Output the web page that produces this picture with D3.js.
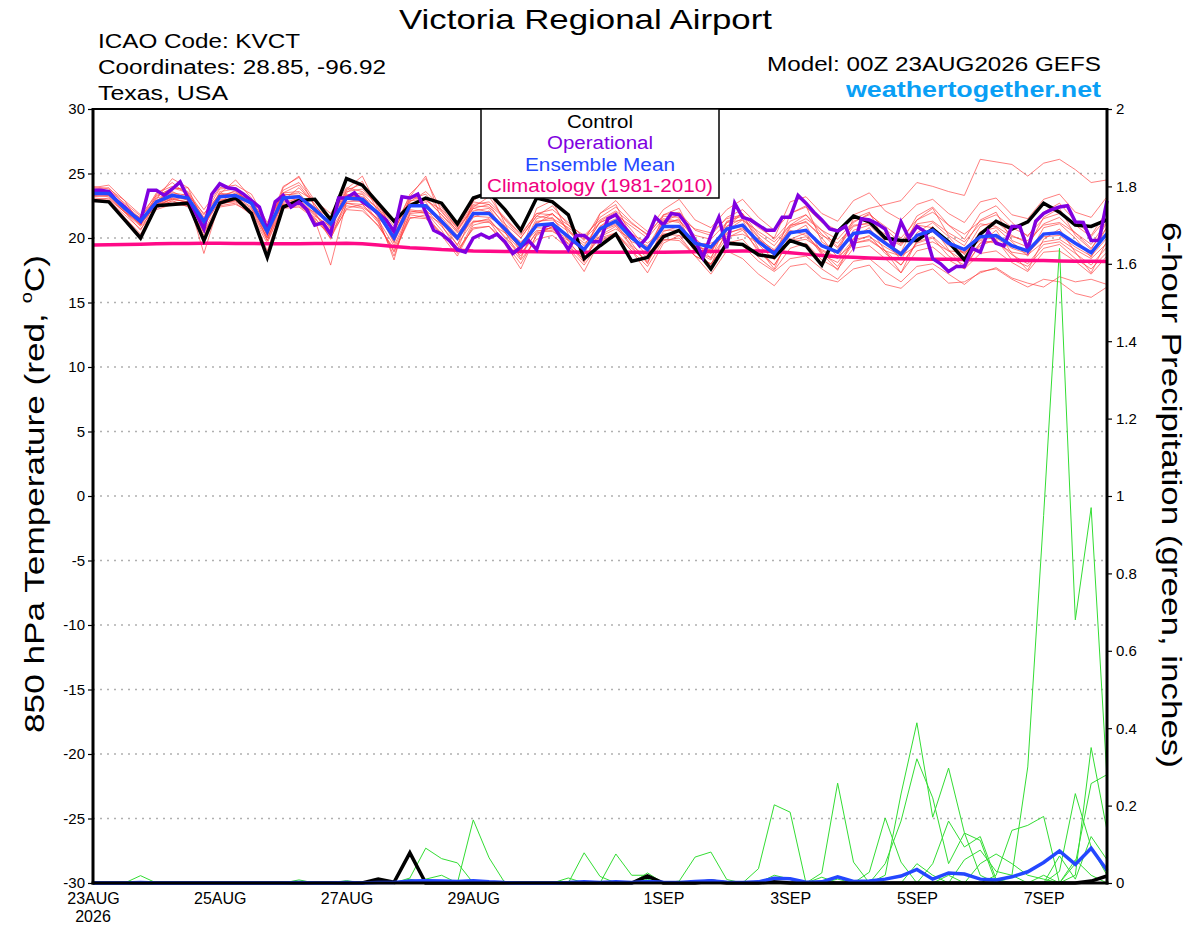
<!DOCTYPE html>
<html><head><meta charset="utf-8">
<script src="https://cdn.jsdelivr.net/npm/d3@7/dist/d3.min.js"></script>
<style>
body{margin:0;background:#fff}
svg{display:block}
text{font-family:"Liberation Sans",Arial,Helvetica,sans-serif}
</style>
</head><body>
<svg id="chart" width="1200" height="927"></svg>
<script>
// ---------------- DATA ----------------
const runStart = "2026-08-23T00:00:00Z";
const runEnd = "2026-09-08T00:00:00Z";

const tempTicks = [30,25,20,15,10,5,0,-5,-10,-15,-20,-25,-30];
const tempTickLabels = ["30","25","20","15","10","5","0","-5","-10","-15","-20","-25","-30"];
const precipTicks = [2,1.8,1.6,1.4,1.2,1,0.8,0.6,0.4,0.2,0];
const precipTickLabels = ["2","1.8","1.6","1.4","1.2","1","0.8","0.6","0.4","0.2","0"];
const dateTicks = ["2026-08-23","2026-08-25","2026-08-27","2026-08-29","2026-09-01","2026-09-03","2026-09-05","2026-09-07"];
const dateTickLabels = ["23AUG","25AUG","27AUG","29AUG","1SEP","3SEP","5SEP","7SEP"];

// 6-hourly control 850 hPa temperature
const controlTemp = [
22.9,22.8,21.4,20.0,22.5,22.6,22.7,19.8,22.7,23.1,
21.9,18.5,22.4,22.9,23.0,21.4,24.6,24.1,22.7,21.3,
22.5,23.1,22.7,21.1,23.1,23.5,22.2,20.6,23.1,22.8,
21.8,18.4,19.4,20.3,18.2,18.5,20.1,20.6,19.2,17.6,
19.6,19.5,18.7,18.5,19.8,19.4,17.9,20.5,21.7,21.25,
20.0,19.8,19.8,20.7,19.7,18.3,20.3,21.3,20.7,21.25,
22.7,22.0,21.0,20.9,21.4];

// 3-hourly operational temperature
const operationalTemp = [
23.7,23.7,23.6,22.9,22.4,21.8,21.3,23.7,23.7,23.3,
23.8,24.35,23.1,21.9,20.7,23.4,24.2,23.9,23.8,23.4,
22.9,22.4,20.6,22.8,23.3,22.4,22.8,22.2,21.0,21.2,
20.3,23.1,23.1,23.5,22.8,22.4,21.9,21.4,20.5,23.2,
23.1,23.4,22.0,20.6,20.3,19.8,19.1,18.9,20.0,20.3,
20.0,20.3,19.7,18.8,19.3,19.8,19.1,20.9,21.1,20.1,
19.1,20.2,20.2,19.7,19.7,21.5,21.8,20.9,20.2,19.4,
20.1,21.6,21.0,21.9,21.8,21.0,19.8,18.5,20.2,21.6,
19.2,22.7,21.6,21.4,21.0,20.6,20.6,21.6,21.6,23.3,
22.7,22.0,21.4,20.7,20.55,20.9,19.3,21.5,21.4,21.1,
20.7,19.3,21.25,20.0,20.9,20.5,18.4,18.0,17.4,17.8,
17.8,19.2,18.9,20.5,19.6,19.4,20.9,20.9,19.1,21.3,
21.9,22.2,22.4,22.5,21.25,21.2,19.8,19.8,22.9];

// 6-hourly ensemble mean temperature
const meanTemp = [
23.45,23.45,22.3,21.3,22.8,23.3,23.1,21.3,23.2,23.3,
22.7,20.5,23.1,23.2,22.2,21.1,23.1,23.0,21.9,20.0,
22.5,22.5,21.3,20.0,21.9,21.9,20.7,19.4,21.0,21.1,
20.1,19.1,20.7,21.3,20.0,19.1,20.9,20.9,19.6,19.3,
20.7,21.0,19.7,18.8,20.4,20.6,19.4,18.9,20.35,20.5,
19.6,18.75,20.2,20.6,19.6,19.1,20.1,20.2,19.4,19.0,
20.3,20.4,19.6,18.85,20.35];

// 6-hourly climatology (1981-2010)
const climTemp = [
19.45,19.47,19.5,19.52,19.55,19.57,19.58,19.6,19.6,19.58,
19.57,19.55,19.55,19.55,19.57,19.58,19.6,19.55,19.45,19.35,
19.25,19.18,19.1,19.05,19.0,18.98,18.95,18.95,18.93,18.92,
18.92,18.9,18.9,18.9,18.9,18.9,18.9,18.92,18.93,18.95,
18.97,19.0,19.0,18.95,18.85,18.75,18.65,18.55,18.5,18.45,
18.42,18.4,18.38,18.36,18.35,18.33,18.32,18.3,18.28,18.26,
18.25,18.22,18.2,18.2,18.18];

// 6-hourly ensemble member temperatures
const memberTemp1 = [
23.8,23.9,22.6,21.5,23.5,24.0,23.6,21.8,23.8,23.9,
23.0,20.9,23.7,24.3,22.8,21.6,23.6,23.8,22.5,20.6,
23.0,23.4,22.0,20.8,22.6,22.8,21.6,20.3,21.9,22.2,
21.2,20.0,21.6,22.4,21.2,20.2,21.8,22.0,20.6,20.2,
21.6,22.2,21.0,19.9,21.3,21.8,20.6,19.9,21.3,21.8,
20.9,20.0,21.4,22.0,21.0,20.3,21.3,21.8,20.8,20.2,
21.5,21.9,21.0,20.1,21.6];
const memberTemp2 = [
23.0,22.9,21.8,20.7,22.2,22.6,22.5,20.5,22.4,22.6,
22.0,19.8,22.3,22.4,21.5,20.2,22.2,22.1,21.0,19.0,
21.6,21.5,20.4,18.9,20.8,20.9,19.8,18.3,19.9,20.2,
19.2,17.9,19.7,20.3,19.0,17.8,19.8,20.0,18.6,18.0,
19.6,19.9,18.5,17.5,19.2,19.6,18.3,17.6,19.2,19.4,
18.4,17.3,19.0,19.3,18.3,17.6,18.8,19.0,18.1,17.4,
18.9,19.0,18.2,17.2,18.6];
const memberTemp3 = [
23.6,23.5,22.1,21.0,23.0,24.6,23.9,21.0,23.3,23.6,
22.6,20.8,24.0,24.7,22.9,21.4,23.8,24.8,22.3,20.4,
23.4,24.6,22.1,20.5,22.4,23.2,21.4,20.0,21.7,22.5,
21.0,19.8,21.9,22.9,21.5,20.5,22.2,23.0,21.4,20.8,
22.2,23.0,21.6,20.6,21.9,22.4,21.2,20.6,21.8,22.3,
22.6,22.9,24.3,24.0,23.6,23.3,26.1,25.9,25.7,24.8,
25.8,26.1,25.3,24.3,24.5];
const memberTemp4 = [
23.2,23.3,22.0,21.1,22.5,23.0,22.8,20.9,22.9,23.1,
22.3,20.0,22.7,22.9,21.8,20.5,22.7,22.6,21.4,19.4,
22.0,22.2,20.9,19.5,21.3,21.4,20.1,18.8,20.4,20.6,
19.6,18.5,20.0,20.4,19.2,18.2,19.9,19.8,18.6,18.0,
19.6,19.4,18.2,17.4,18.4,18.6,17.6,16.8,18.2,18.4,
17.4,16.6,17.8,18.0,17.2,16.4,17.4,17.6,16.8,16.2,
16.8,16.6,15.7,15.4,16.2];
const memberTemp5 = [
23.5,23.6,22.5,21.2,22.6,23.2,23.4,21.6,23.5,23.2,
22.4,20.2,22.8,23.0,21.9,20.6,23.3,23.5,22.2,19.7,
22.2,22.0,21.6,20.2,22.3,22.0,20.4,19.0,21.3,21.4,
20.5,19.4,21.2,21.7,20.3,18.9,21.2,21.4,19.9,19.0,
20.9,21.5,20.0,18.6,20.8,21.3,20.0,18.5,20.6,21.0,
19.8,18.3,20.4,21.2,20.1,18.7,20.5,20.8,19.7,18.6,
20.8,21.1,20.0,18.5,20.9];
const memberTemp6 = [
23.3,23.2,22.0,20.6,22.9,23.6,23.0,18.8,22.8,23.5,
22.9,19.8,23.3,23.5,22.0,19.9,23.0,23.4,21.6,18.3,
22.7,22.8,21.0,19.1,22.1,22.3,20.5,18.4,21.2,21.6,
19.8,18.2,20.9,21.8,19.6,18.0,21.0,21.5,19.0,17.9,
20.6,21.4,19.2,17.6,20.3,21.0,18.8,17.5,20.0,20.8,
19.0,17.3,19.8,20.9,19.1,17.6,19.6,20.6,18.8,17.5,
19.9,20.7,18.9,17.3,19.8];
const memberTemp7 = [
24.0,23.8,22.9,21.8,23.3,23.8,23.9,22.2,23.9,24.1,
23.4,21.2,23.5,23.6,22.9,21.9,23.9,23.6,22.6,20.9,
23.2,22.9,22.2,20.9,22.8,22.6,21.5,20.2,21.9,21.8,
21.0,20.2,21.4,22.1,21.1,20.3,21.7,21.6,20.7,20.4,
21.5,21.8,20.8,20.0,22.8,23.2,21.9,21.3,22.9,23.5,
22.1,21.4,22.6,23.0,21.9,21.2,22.8,23.1,21.8,21.5,
23.0,23.4,22.0,21.6,23.2];
const memberTemp8 = [
22.8,22.9,21.6,20.3,22.4,23.1,22.7,20.2,22.6,22.9,
21.9,19.0,22.6,22.8,21.4,17.9,22.8,22.9,21.3,18.6,
21.9,22.0,20.6,18.8,21.2,21.5,20.0,18.6,20.5,20.8,
19.3,18.4,20.2,20.9,19.3,18.1,20.3,20.5,19.0,18.3,
20.0,20.6,19.1,17.9,19.8,20.1,18.9,17.8,19.6,19.9,
19.0,17.9,19.7,20.1,19.0,18.2,19.6,19.8,18.7,18.0,
19.5,19.7,18.8,17.9,19.3];
const memberTemp9 = [
23.7,23.6,22.2,21.6,23.1,23.4,22.9,21.1,23.6,23.8,
22.5,20.4,22.9,23.9,22.6,21.0,23.3,23.1,21.7,19.9,
22.4,23.1,21.8,20.4,21.7,21.6,20.9,19.6,21.1,21.9,
20.6,19.6,20.5,21.0,19.7,19.3,21.4,21.2,19.4,18.9,
20.9,21.9,20.3,19.4,21.0,21.8,20.3,19.2,20.9,21.2,
20.1,19.4,21.0,20.8,19.5,18.9,20.9,21.3,20.2,19.6,
21.1,21.6,20.4,19.2,20.8];
const memberTemp10 = [
23.4,23.3,22.4,21.4,22.7,23.1,23.0,21.4,23.0,23.0,
22.8,20.7,23.2,22.9,21.7,20.9,23.0,22.8,21.9,20.2,
22.6,22.4,21.1,19.8,21.6,22.1,20.7,19.7,20.8,20.7,
19.9,19.0,20.9,21.5,20.3,19.6,20.6,20.6,19.3,19.1,
20.4,20.7,19.9,19.1,20.6,20.2,19.0,18.4,19.9,20.1,
19.3,18.6,20.0,20.5,19.4,18.8,19.9,20.0,19.2,18.8,
20.1,20.2,19.3,18.6,20.0];
const memberTemp11 = [
23.9,24.1,22.9,21.0,23.4,24.3,23.3,20.8,23.4,24.5,
23.1,20.1,23.9,24.8,22.4,20.7,23.5,24.4,22.0,19.6,
23.2,24.8,21.4,19.4,22.9,23.7,21.1,18.9,22.3,22.9,
20.3,18.7,21.9,22.6,20.0,18.6,21.8,22.3,19.8,18.4,
21.2,21.9,19.5,18.3,21.9,22.5,19.7,18.9,21.5,22.0,
19.7,18.9,21.4,22.3,20.2,19.4,21.4,22.0,19.8,19.3,
21.6,22.3,20.2,19.1,21.2];
const memberTemp12 = [
23.1,23.0,22.0,21.3,22.6,22.8,22.6,21.1,22.8,22.9,
22.2,20.6,22.6,22.6,22.0,21.2,22.7,22.4,21.5,20.4,
22.1,21.9,21.1,20.1,21.3,21.2,20.4,19.3,20.6,20.5,
19.8,19.2,20.1,20.7,19.9,19.4,20.3,20.2,19.5,19.6,
20.1,20.3,19.6,19.0,19.7,19.9,19.1,18.5,19.6,19.8,
19.0,18.6,19.4,19.7,19.0,18.9,19.8,19.6,18.9,18.7,
19.7,19.9,19.1,18.4,19.6];
const memberTemp13 = [
23.3,23.4,22.3,21.0,22.6,23.0,22.8,20.6,22.7,22.8,
22.1,20.0,22.4,22.5,21.6,20.0,22.3,22.6,21.2,18.9,
21.5,21.8,20.3,19.1,20.7,20.9,19.5,17.6,20.3,20.9,
19.2,17.4,19.8,20.4,19.0,17.3,19.6,20.2,18.6,17.2,
19.0,18.4,17.2,16.3,17.8,18.0,16.9,16.6,17.6,17.9,
16.4,16.1,17.2,17.6,16.5,16.6,17.3,17.7,16.9,16.5,
16.2,17.0,16.6,16.8,16.4];
const memberTemp14 = [
23.6,23.7,22.7,21.7,22.9,23.5,23.3,21.9,23.4,23.4,
22.9,21.0,23.4,23.3,22.4,21.5,23.4,23.2,22.3,20.6,
22.9,23.0,21.8,20.6,22.5,22.4,21.1,20.0,21.7,21.5,
20.8,19.9,21.2,21.8,20.9,20.0,21.5,21.3,20.2,19.9,
21.2,21.4,20.5,19.7,21.0,21.2,20.2,19.6,21.0,21.1,
20.3,19.5,21.1,21.3,20.4,19.7,21.1,20.9,20.1,19.8,
21.0,21.2,20.4,19.5,21.3];
const memberTemp15 = [
23.5,23.4,22.3,21.1,23.2,23.9,23.5,21.5,23.1,23.7,
22.6,20.3,23.5,24.1,22.6,20.8,23.7,24.2,22.8,20.3,
22.8,23.6,22.4,20.7,22.3,22.6,20.9,19.1,21.5,21.9,
20.7,19.1,21.3,22.0,20.6,19.0,21.3,21.8,20.0,18.8,
21.3,21.7,20.1,18.9,20.9,21.5,20.6,19.3,21.2,21.9,
20.7,19.6,21.7,22.4,21.0,19.9,21.9,22.5,21.2,20.1,
22.0,22.7,21.3,20.2,22.1];
const memberTemp16 = [
22.9,23.1,22.0,20.9,22.3,22.9,22.4,20.4,22.5,22.7,
21.8,19.6,22.5,22.7,21.3,20.3,22.5,22.3,20.9,19.2,
21.8,21.6,20.2,18.6,21.0,21.3,19.6,18.0,20.2,20.9,
19.5,18.1,20.6,21.1,19.4,18.5,20.5,20.9,18.9,18.5,
20.3,20.8,18.9,17.9,19.9,20.4,18.7,18.1,19.7,20.2,
18.8,17.9,19.6,20.0,18.6,17.9,19.4,19.9,18.3,17.8,
19.2,19.5,18.4,17.6,18.9];
const memberTemps = [memberTemp1,memberTemp2,memberTemp3,memberTemp4,memberTemp5,memberTemp6,memberTemp7,
  memberTemp8,memberTemp9,memberTemp10,memberTemp11,memberTemp12,memberTemp13,memberTemp14,memberTemp15,memberTemp16];

// 6-hourly precipitation (inches)
const controlPrecip = [
0,0,0,0,0,0,0,0,0,0,
0,0,0,0,0,0,0,0,0.01,0.002,
0.078,0,0,0,0,0,0,0,0,0,
0,0,0,0,0,0.018,0,0,0,0.005,
0,0,0,0.003,0,0,0,0,0,0,
0,0,0,0,0,0,0,0,0,0,
0,0,0,0.005,0.018];
const meanPrecip = [
0,0,0,0.001,0,0,0,0,0,0,
0,0,0,0.001,0,0,0.001,0,0.001,0.001,
0.005,0.006,0.005,0.004,0.006,0.003,0.001,0,0,0,
0.001,0.003,0.001,0.003,0.001,0.004,0.002,0.001,0.004,0.006,
0.002,0.001,0.003,0.012,0.011,0.002,0.003,0.016,0.004,0.005,
0.01,0.018,0.035,0.01,0.026,0.023,0.01,0.008,0.016,0.029,
0.053,0.083,0.048,0.09,0.033];
const memberPrecip1 = [
0,0,0,0.019,0,0,0,0,0,0,
0,0,0,0,0,0,0,0,0,0,
0.013,0.09,0.063,0.052,0,0,0,0,0,0,
0,0,0,0,0,0,0,0,0,0,
0,0,0.037,0.202,0.183,0,0,0,0,0,
0.02,0.23,0.414,0.17,0.297,0.13,0.02,0,0,0,
0,0,0,0,0];
const memberPrecip2 = [
0,0,0,0,0,0,0,0,0,0,
0,0,0,0.008,0,0,0,0,0,0,
0,0,0,0,0.163,0.065,0,0,0,0,
0,0,0,0,0,0.026,0,0.005,0.067,0.08,
0.009,0,0,0,0,0,0,0,0,0,
0,0,0,0,0,0,0,0,0.02,0.30,
0.95,1.64,0.68,0.97,0.27];
const memberPrecip3 = [
0,0,0,0,0,0,0,0,0,0,
0,0,0,0,0,0,0.006,0,0,0,
0.01,0,0,0,0,0,0,0,0,0,
0,0.078,0.017,0,0,0,0,0,0,0,
0,0,0,0,0,0,0.026,0.258,0.054,0,
0,0,0,0,0,0,0,0.02,0.136,0.149,
0.172,0,0.02,0.35,0.136];
const memberPrecip4 = [
0,0,0,0,0,0,0,0,0,0,
0,0,0,0,0,0,0,0,0,0,
0,0,0,0,0,0,0,0,0,0,
0,0,0,0.075,0.02,0.02,0,0,0,0,
0,0,0,0,0,0,0,0,0,0.028,
0.168,0.054,0,0.05,0.16,0.093,0.12,0.01,0,0,
0,0.03,0.231,0.093,0.02];
const memberPrecip5 = [
0,0,0,0,0,0,0,0,0,0,
0,0,0,0,0,0,0,0,0,0,
0,0,0,0,0,0,0,0,0,0,
0.013,0,0,0,0,0.018,0,0,0,0,
0,0,0,0,0,0,0,0,0,0,
0.05,0.16,0.321,0.22,0.05,0.129,0.11,0,0,0,
0.02,0,0.05,0.257,0.28];
const memberPrecip6 = [
0,0,0,0,0,0,0,0,0,0,
0,0,0,0,0,0,0,0,0,0,
0,0.01,0.02,0,0,0,0,0,0,0,
0,0,0,0,0,0,0,0,0,0.006,
0,0,0,0.02,0.01,0,0,0.01,0,0,
0,0,0,0,0.02,0,0.05,0.075,0.05,0.02,
0.01,0,0.06,0.02,0];
const memberPrecip7 = [
0,0,0,0,0,0,0,0,0,0,
0,0,0,0,0,0,0,0,0,0,
0,0,0,0,0,0,0,0,0,0,
0,0,0,0,0,0.01,0,0,0,0,
0,0,0,0,0,0,0.015,0,0,0,
0,0,0.05,0.02,0,0.06,0.085,0.03,0.02,0,
0,0.07,0.01,0.12,0.06];
const memberPrecips = [memberPrecip1,memberPrecip2,memberPrecip3,memberPrecip4,memberPrecip5,memberPrecip6,memberPrecip7];

const legendItems = ["Control","Operational","Ensemble Mean","Climatology (1981-2010)"];

// ---------------- DRAWING ----------------
const svg = d3.select("#chart");
const L = 93, R = 1107, T = 109, B = 883;
const t0 = new Date(runStart), t1 = new Date(runEnd);
const x = d3.scaleUtc().domain([t0, t1]).range([L, R]);
const yT = d3.scaleLinear().domain([-30, 30]).range([B, T]);
const yP = d3.scaleLinear().domain([0, 2]).range([B, T]);

const timeAt = (i, stepH) => d3.utcHour.offset(t0, i * stepH);
const lineT = (stepH) => d3.line().x((d, i) => x(timeAt(i, stepH))).y(d => yT(d));
const lineP = d3.line().x((d, i) => x(timeAt(i, 6))).y(d => yP(d));

const font = '"Liberation Sans",Arial,Helvetica,sans-serif';

function txt(g, xx, yy, s, opt) {
  const t = g.append("text").attr("x", xx).attr("y", yy).text(s)
    .attr("font-size", opt.size).attr("fill", opt.fill || "#000")
    .attr("text-anchor", opt.anchor || "start");
  if (opt.weight) t.attr("font-weight", opt.weight);
  if (opt.len) t.attr("textLength", opt.len).attr("lengthAdjust", "spacingAndGlyphs");
  if (opt.transform) t.attr("transform", opt.transform);
  return t;
}

// gridlines
svg.append("g").selectAll("line")
  .data(tempTicks.filter(v => v > -30 && v < 30))
  .join("line")
  .attr("x1", L).attr("x2", R)
  .attr("y1", d => yT(d)).attr("y2", d => yT(d))
  .attr("stroke", "#b0b0b0").attr("stroke-width", 1.3)
  .attr("stroke-dasharray", "2,5");

const plot = svg.append("g");

// ensemble members temperature
plot.append("g").selectAll("path").data(memberTemps).join("path")
  .attr("d", lineT(6)).attr("fill", "none")
  .attr("stroke", "#ff3b3b").attr("stroke-opacity", 0.65).attr("stroke-width", 1);

// ensemble members precipitation
plot.append("g").selectAll("path").data(memberPrecips).join("path")
  .attr("d", lineP).attr("fill", "none")
  .attr("stroke", "#33dd33").attr("stroke-width", 1);

// climatology
plot.append("path").datum(climTemp).attr("d", lineT(6)).attr("fill", "none")
  .attr("stroke", "#ff0a87").attr("stroke-width", 3.5).attr("stroke-linejoin", "round");
// control
plot.append("path").datum(controlTemp).attr("d", lineT(6)).attr("fill", "none")
  .attr("stroke", "#000").attr("stroke-width", 3.5);
// operational
plot.append("path").datum(operationalTemp).attr("d", lineT(3)).attr("fill", "none")
  .attr("stroke", "#8000e0").attr("stroke-width", 3.5);
// ensemble mean
plot.append("path").datum(meanTemp).attr("d", lineT(6)).attr("fill", "none")
  .attr("stroke", "#2447ff").attr("stroke-width", 3.5);

// precip control and mean
plot.append("path").datum(controlPrecip).attr("d", lineP).attr("fill", "none")
  .attr("stroke", "#000").attr("stroke-width", 3.5);
plot.append("path").datum(meanPrecip).attr("d", lineP).attr("fill", "none")
  .attr("stroke", "#2447ff").attr("stroke-width", 3.5);

// axes
const axL = svg.append("g").attr("transform", `translate(${L},0)`)
  .call(d3.axisLeft(yT).tickValues(tempTicks).tickSize(5).tickSizeOuter(0).tickPadding(3)
    .tickFormat((d, i) => tempTickLabels[i]));
const axR = svg.append("g").attr("transform", `translate(${R},0)`)
  .call(d3.axisRight(yP).tickValues(precipTicks).tickSize(5).tickSizeOuter(0).tickPadding(4)
    .tickFormat((d, i) => precipTickLabels[i]));
const axB = svg.append("g").attr("transform", `translate(0,${B})`)
  .call(d3.axisBottom(x).tickValues(dateTicks.map(s => new Date(s + "T00:00:00Z"))).tickSize(0).tickSizeOuter(0).tickPadding(10)
    .tickFormat((d, i) => dateTickLabels[i]));
[axL, axR, axB].forEach(a => {
  a.select(".domain").remove();
  a.selectAll("text").attr("font-family", font).attr("font-size", 15).attr("fill", "#000");
  a.selectAll(".tick line").attr("stroke", "#000").attr("stroke-width", 1.2);
});
axB.selectAll("text").attr("font-size", 16);
txt(svg, x(new Date(dateTicks[0] + "T00:00:00Z")), 922, "2026", {size: 16, anchor: "middle"});

// frame
svg.append("line").attr("x1", L).attr("x2", R).attr("y1", T).attr("y2", T).attr("stroke", "#000").attr("stroke-width", 2);
svg.append("line").attr("x1", L).attr("x2", L).attr("y1", T - 1).attr("y2", B + 1.5).attr("stroke", "#000").attr("stroke-width", 3);
svg.append("line").attr("x1", R).attr("x2", R).attr("y1", T - 1).attr("y2", B + 1.5).attr("stroke", "#000").attr("stroke-width", 3);
svg.append("line").attr("x1", L - 1.5).attr("x2", R + 1.5).attr("y1", B).attr("y2", B).attr("stroke", "#000").attr("stroke-width", 3);

// legend
const lg = svg.append("g");
lg.append("rect").attr("x", 481).attr("y", T).attr("width", 238).attr("height", 89)
  .attr("fill", "#fff").attr("stroke", "#000").attr("stroke-width", 1.5);
const legendColors = ["#000", "#8000e0", "#2447ff", "#f0007f"];
const legendLens = [66, 106, 150, 226];
legendItems.forEach((s, i) => {
  txt(lg, 600, 128 + i * 21.3, s, {size: 18, anchor: "middle", fill: legendColors[i], len: legendLens[i]});
});

// header texts
txt(svg, 585.5, 29, "Victoria Regional Airport", {size: 28, anchor: "middle", len: 373});
txt(svg, 98, 48, "ICAO Code: KVCT", {size: 20, len: 202});
txt(svg, 98, 74, "Coordinates: 28.85, -96.92", {size: 20, len: 288});
txt(svg, 98, 100, "Texas, USA", {size: 20, len: 130});
txt(svg, 1101, 71, "Model: 00Z 23AUG2026 GEFS", {size: 20, anchor: "end", len: 334});
txt(svg, 1101, 97, "weathertogether.net", {size: 22, anchor: "end", weight: "bold", fill: "#0a9ff5", len: 255});

// axis titles
const lt = svg.append("text").attr("transform", "translate(44,494) rotate(-90)")
  .attr("text-anchor", "middle").attr("font-size", 28).attr("fill", "#000")
  .attr("textLength", 478).attr("lengthAdjust", "spacingAndGlyphs");
lt.append("tspan").text("850 hPa Temperature (red, ");
lt.append("tspan").text("o").attr("font-size", 16).attr("dy", -12);
lt.append("tspan").text("C)").attr("dy", 12);

txt(svg, 0, 0, "6-hour Precipitation (green, inches)", {size: 28, anchor: "middle", len: 546,
  transform: "translate(1162,495) rotate(90)"});
</script>
</body></html>
